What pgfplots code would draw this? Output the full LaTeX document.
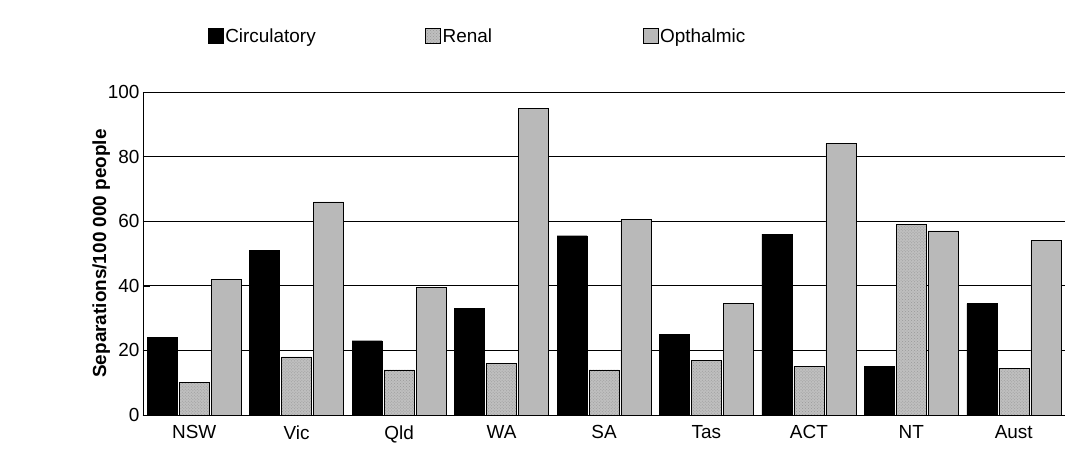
\documentclass[border=0pt]{standalone}
\usepackage{pgfplots}
\pgfplotsset{compat=1.18}
\usepackage{fontspec}
\setmainfont{Liberation Sans}
\usetikzlibrary{patterns}
\begin{document}
\begin{tikzpicture}[x=1bp,y=1bp]
\path[use as bounding box] (-143,-49) rectangle (938,415);
\begin{axis}[
  at={(0,0)}, anchor=south west,
  scale only axis, width=922bp, height=323bp,
  ybar, bar width=30bp,
  xmin=-0.5, xmax=8.5, ymin=0, ymax=100,
  ytick={0,20,...,100},
  xtick={0,...,8}, xticklabels={NSW,Vic,Qld,WA,SA,Tas,ACT,NT,Aust},
  extra x ticks={-0.5,0.5,...,8.5}, extra x tick labels={},
  extra x tick style={major tick length=7bp, tick style={black}, grid=none},
  x tick style={draw=none},
  ymajorgrids, grid style={black, line width=0.6pt},
  axis x line*=bottom, axis y line*=left,
  y tick style={black}, major tick length=7bp,
  tick label style={font=\fontsize{19}{22}\selectfont},
  /pgf/number format/assume math mode=true,
  ylabel={\textbf{Separations/100 000 people}},
  ylabel style={font=\fontsize{19}{22}\selectfont, yshift=-9bp},
  legend style={at={(0.5,1)}, anchor=south, yshift=44bp, xshift=-70bp, draw=none,
    font=\fontsize{19}{22}\selectfont, legend columns=3,
    nodes={text width=198bp, align=left, inner xsep=2bp}},
  legend image code/.code={\draw[#1] (0bp,-7bp) rectangle (15bp,8bp);},
]
\addplot[fill=black, draw=black] coordinates {(0,24)(1,51)(2,23)(3,33)(4,55.5)(5,25)(6,56)(7,15)(8,34.5)};
\addplot[fill=gray!50, draw=black, postaction={pattern=crosshatch dots, pattern color=gray!80}] coordinates {(0,10)(1,18)(2,14)(3,16)(4,14)(5,17)(6,15)(7,59)(8,14.5)};
\addplot[fill=gray!55, draw=black] coordinates {(0,42)(1,66)(2,39.5)(3,95)(4,60.5)(5,34.5)(6,84)(7,57)(8,54)};
\legend{Circulatory,Renal,Opthalmic}
\end{axis}
\end{tikzpicture}
\end{document}
